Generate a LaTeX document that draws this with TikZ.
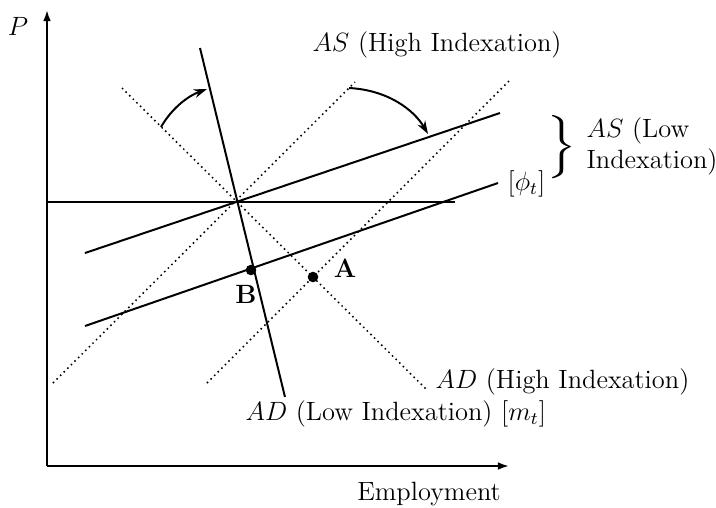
\documentclass[tikz,border=0pt]{standalone}
\usetikzlibrary{arrows.meta}

\begin{document}
\begin{tikzpicture}[x=0.454pt,y=-0.454pt,
    curve/.style={line width=0.9pt},
    guide/.style={line width=0.7pt,dash pattern=on 0.7pt off 1.6pt},
    axis/.style={line width=0.9pt,-{Latex[length=5pt,width=3.5pt]}},
    shiftarrow/.style={line width=0.9pt,-{Stealth[length=6pt,width=4pt]}},
    point/.style={circle,fill,inner sep=1.7pt},
    lbl/.style={inner sep=1pt,font=\large}]
  \useasboundingbox (0,0) rectangle (716,507);
  % axes
  \coordinate (O) at (47,466);
  \coordinate (ytop) at (47,10);
  \coordinate (xend) at (509,466);
  \draw[axis] (O) -- (ytop);
  \draw[axis] (O) -- (xend);
  \node[lbl] (plbl) at (18,26) {$P$};
  \node[lbl] (elbl) at (429,494) {Employment};
  % price level
  \coordinate (E) at (233,202);
  \coordinate (hstart) at (47,202);
  \coordinate (hend) at (455,202);
  \draw[curve] (hstart) -- (hend);
  % AS (low indexation)
  \coordinate (asla) at (85,253);
  \coordinate (aslb) at (500,113);
  \coordinate (asma) at (85,326);
  \coordinate (asmb) at (498,183);
  \draw[curve] (asla) -- (aslb);
  \draw[curve] (asma) -- (asmb);
  % AD (low indexation)
  \coordinate (adla) at (200,48);
  \coordinate (adlb) at (285,397);
  \draw[curve] (adla) -- (adlb);
  % high indexation
  \coordinate (adha) at (122,88);
  \coordinate (adhb) at (427,390);
  \coordinate (asha) at (53,383);
  \coordinate (ashb) at (355,82);
  \coordinate (asga) at (207,383);
  \coordinate (asgb) at (510,80);
  \draw[guide] (adha) -- (adhb);
  \draw[guide] (asha) -- (ashb);
  \draw[guide] (asga) -- (asgb);
  % shifts
  \coordinate (s1a) at (161,127);
  \coordinate (s1b) at (207,89);
  \coordinate (s2a) at (349,88);
  \coordinate (s2b) at (428,134);
  \draw[shiftarrow] (s1a) .. controls (172,108) and (188,96) .. (s1b);
  \draw[shiftarrow] (s2a) .. controls (388,90) and (414,110) .. (s2b);
  % points
  \node[point] (B) at (251,270) {};
  \node[point] (A) at (313,277) {};
  \node[lbl] (albl) at (345,268) {\textbf{A}};
  \node[lbl] (blbl) at (246,294) {\textbf{B}};
  % labels
  \node[lbl] (ashlbl) at (437,45) {$AS$ (High Indexation)};
  \node[lbl,anchor=west] (philbl) at (505,184) {$[\phi_t]$};
  \node[inner sep=0pt,scale=2.4] (brace) at (562,147) {$\big\}$};
  \node[lbl,anchor=west,align=left] (asllbl) at (584,146) {$AS$ (Low\\Indexation)};
  \node[lbl,anchor=west] (adhlbl) at (433,382) {$AD$ (High Indexation)};
  \node[lbl,anchor=west] (adllbl) at (243,414) {$AD$ (Low Indexation) $[m_t]$};
\end{tikzpicture}
\end{document}
